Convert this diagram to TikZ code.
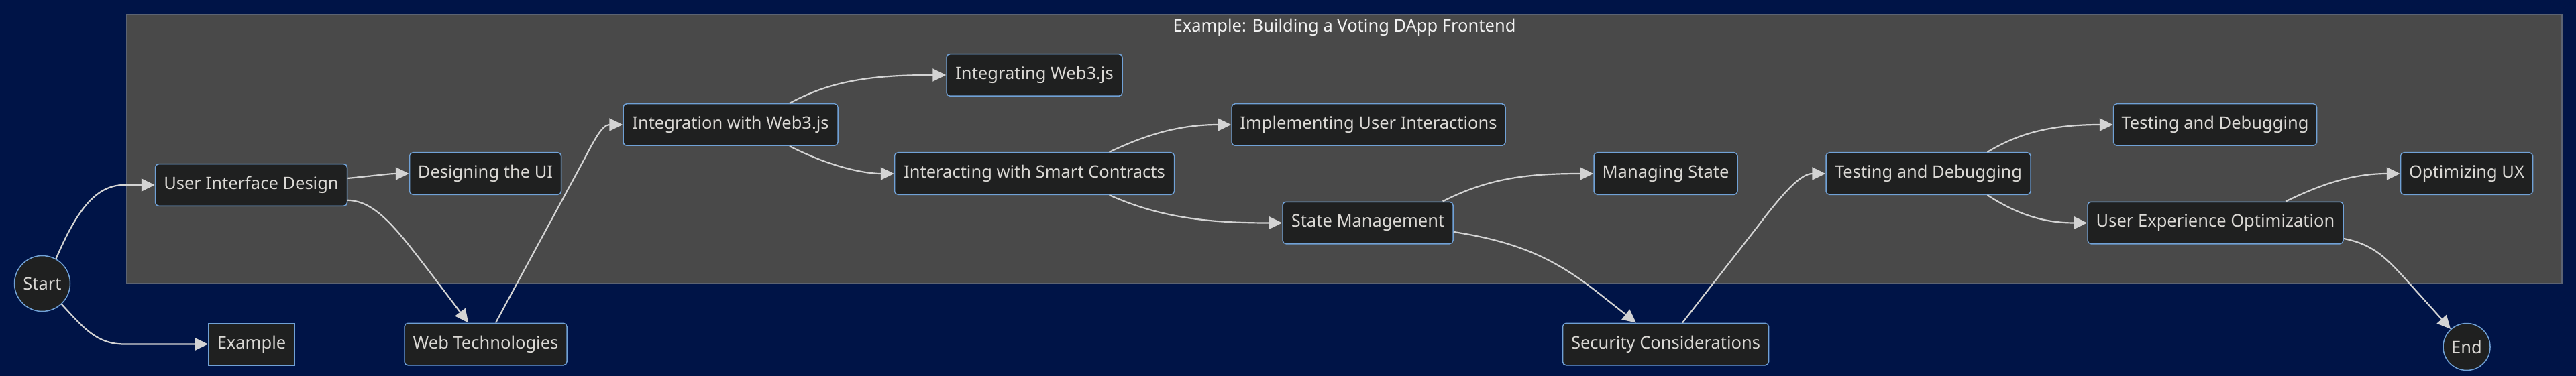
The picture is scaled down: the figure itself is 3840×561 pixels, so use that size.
\documentclass[tikz,border=0pt]{standalone}
\usepackage{fontspec}
\setmainfont{Noto Sans}
\usetikzlibrary{arrows.meta}
\definecolor{bgc}{RGB}{0,20,71}
\definecolor{clfill}{RGB}{73,73,73}
\definecolor{clline}{RGB}{92,99,114}
\definecolor{nfill}{RGB}{31,32,32}
\definecolor{nline}{RGB}{112,161,214}
\definecolor{edgec}{RGB}{211,211,211}
\definecolor{txtc}{RGB}{218,216,212}
\tikzset{
  box/.style={draw=nline, fill=nfill, line width=1.5pt, rounded corners=5pt,
    minimum height=62.5pt, inner sep=0pt, text=txtc,
    font=\fontsize{25.5}{30}\selectfont},
  sqbox/.style={box, rounded corners=0pt},
  circ/.style={draw=nline, fill=nfill, line width=1.5pt, circle, inner sep=0pt,
    text=txtc, font=\fontsize{25.5}{30}\selectfont},
  edge/.style={draw=edgec, line width=2.2pt, -{Triangle[length=20pt,width=19pt]}},
}
\begin{document}
\begin{tikzpicture}[x=1pt,y=-1pt]
\useasboundingbox (0,0) rectangle (3840,561);
\fill[bgc] (0,0) rectangle (3840,561);
\draw[clline, fill=clfill, line width=1.5pt] (188.6,21.5) rectangle (3819,423);
\node[text=white!90!gray, font=\fontsize{25.5}{30}\selectfont] (title) at (2004,41) {Example: Building a Voting DApp Frontend};

\node[circ, minimum size=83pt] (start) at (63,423) {Start};
\node[circ, minimum size=70pt] (endn) at (3677,517.5) {End};
\node[box, minimum width=286pt] (uid) at (374.5,276) {User Interface Design};
\node[box, minimum width=226pt] (dui) at (723.5,259) {Designing the UI};
\node[sqbox, minimum width=128.5pt] (ex) at (375,513.5) {Example};
\node[box, minimum width=242pt] (wt) at (724,513.5) {Web Technologies};
\node[box, minimum width=320pt] (integ) at (1089,186) {Integration with Web3.js};
\node[box, minimum width=262pt] (ig) at (1542,112) {Integrating Web3.js};
\node[box, minimum width=417pt] (isc) at (1542,259) {Interacting with Smart Contracts};
\node[box, minimum width=408pt] (iui) at (2040,186) {Implementing User Interactions};
\node[box, minimum width=254pt] (sm) at (2039,332.5) {State Management};
\node[box, minimum width=214pt] (ms) at (2483,259) {Managing State};
\node[box, minimum width=307pt] (ss) at (2483,513.5) {Security Considerations};
\node[box, minimum width=305pt] (td1) at (2874.5,259) {Testing and Debugging};
\node[box, minimum width=303pt] (td2) at (3302,186) {Testing and Debugging};
\node[box, minimum width=197pt] (oux) at (3677,259) {Optimizing UX};
\node[box, minimum width=381pt] (uxo) at (3302.5,332.5) {User Experience Optimization};

\draw[edge] (start.61.6) .. controls (112,320) and (140,276) .. (185,276) -- (uid.west);
\draw[edge] (start.-47) .. controls (125,490) and (145,513.5) .. (185,513.5) -- (ex.west);
\draw[edge] (uid.4) .. controls (560,262) and (580,259) .. (dui.west);
\draw[edge] (uid.-9) .. controls (560,300) and (590,340) .. (640,405) -- (wt.129.5);
\draw[edge] (wt.65) -- (868,243) .. controls (885,211) and (897,186) .. (integ.west);
\draw[edge] (integ.20) .. controls (1240,120) and (1300,112) .. (ig.west);
\draw[edge] (integ.-20) .. controls (1240,250) and (1290,259) .. (isc.west);
\draw[edge] (isc.16.5) .. controls (1710,200) and (1760,186) .. (iui.west);
\draw[edge] (isc.-16.5) .. controls (1730,325) and (1800,332.5) .. (sm.west);
\draw[edge] (sm.16.5) .. controls (2220,265) and (2280,259) .. (ms.west);
\draw[edge] (sm.-6) .. controls (2270,362) and (2322,390) .. (2380,435) -- (ss.144);
\draw[edge] (ss.52.7) -- (2620,338) .. controls (2660,285) and (2685,259) .. (td1.west);
\draw[edge] (td1.20.7) .. controls (3010,198) and (3060,186) .. (td2.west);
\draw[edge] (td1.-20.7) .. controls (3010,322) and (3050,332.5) .. (uxo.west);
\draw[edge] (uxo.17.6) .. controls (3450,280) and (3500,259) .. (oux.west);
\draw[edge] (uxo.-7) .. controls (3535,364) and (3555,383) .. (3580,410) -- (endn);
\end{tikzpicture}
\end{document}
